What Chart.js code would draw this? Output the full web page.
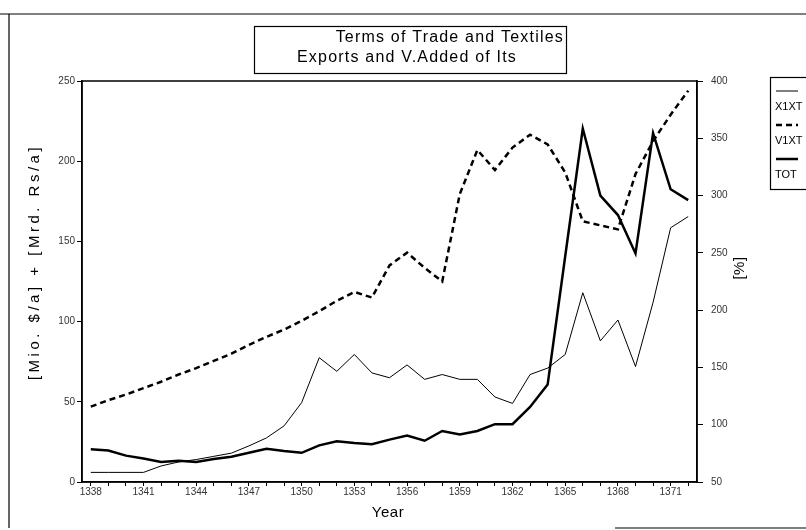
<!DOCTYPE html>
<html>
<head>
<meta charset="utf-8">
<script src="https://cdn.jsdelivr.net/npm/chart.js@4/dist/chart.umd.min.js"></script>
<style>
  body { margin: 0; background: #fff; }
  canvas { display: block; }
</style>
</head>
<body>
<canvas id="tradeChart" width="806" height="530"></canvas>
<script>
const years = [
  1338, 1339, 1340, 1341, 1342, 1343, 1344, 1345, 1346, 1347, 1348, 1349,
  1350, 1351, 1352, 1353, 1354, 1355, 1356, 1357, 1358, 1359, 1360, 1361,
  1362, 1363, 1364, 1365, 1366, 1367, 1368, 1369, 1370, 1371, 1372,
]
const labelYears = [1338, 1341, 1344, 1347, 1350, 1353, 1356, 1359, 1362, 1365, 1368, 1371]

// textile exports [Mio. $/a]
const x1xt = [
  6, 6, 6, 6, 10, 12.5, 14, 16, 18, 22.5, 27.5, 35,
  49.5, 77.5, 69, 79.5, 68, 65, 73, 64, 67, 64, 64, 53,
  49, 67, 71, 79.5, 118, 88, 101, 72, 112, 158.5, 165.5,
]
// value added of textiles [Mrd. Rs/a]
const v1xt = [
  47, 51, 54.5, 58.5, 62.5, 67, 71, 75.5, 80, 85.5, 90.5, 95,
  100.5, 106.5, 113, 118.5, 115, 135, 143, 133.5, 125, 179.5, 207, 194.5,
  208.5, 216.5, 210.5, 193, 162.5, 160, 157.5, 192, 212.5, 229, 244,
]
// terms of trade [%]
const tot = [
  78.5, 77.5, 73, 70.5, 67.5, 68.5, 67.5, 70, 72, 75.5, 79, 77,
  75.5, 82, 85.5, 84, 83, 87, 90.5, 86, 94.5, 91.5, 94.5, 100.5,
  100.5, 115.5, 135, 247, 358.5, 300, 283, 249.5, 354.5, 305.5, 296,
]

const titleLines = ['Terms of Trade and Textiles', 'Exports and V.Added of Its']
const yLeftTitle = '[Mio. $/a] + [Mrd. Rs/a]'
const yRightTitle = '[%]'
const xTitle = 'Year'

const FONT = "'Liberation Sans', Arial, sans-serif"

const decor = {
  id: 'decor',
  beforeDraw(chart) {
    const { ctx } = chart
    ctx.save()
    ctx.fillStyle = '#fff'
    ctx.fillRect(0, 0, chart.width, chart.height)
    ctx.restore()
  },
  afterDraw(chart) {
    const { ctx, chartArea: a } = chart
    ctx.save()
    ctx.strokeStyle = '#000'
    ctx.fillStyle = '#000'

    // box round the plot
    ctx.lineWidth = 1.5
    ctx.strokeRect(a.left, a.top, a.right - a.left, a.bottom - a.top)

    // outer frame of the page
    ctx.lineWidth = 1.2
    ctx.beginPath()
    ctx.moveTo(0, 14)
    ctx.lineTo(806, 14)
    ctx.moveTo(9, 14)
    ctx.lineTo(9, 528)
    ctx.moveTo(615, 528)
    ctx.lineTo(806, 528)
    ctx.stroke()

    // title box
    ctx.lineWidth = 1.2
    ctx.strokeRect(254.5, 26.5, 312, 47)
    ctx.font = '16px ' + FONT
    ctx.letterSpacing = '1.2px'
    ctx.textBaseline = 'alphabetic'
    ctx.textAlign = 'right'
    ctx.fillText(titleLines[0], 564, 42)
    ctx.textAlign = 'left'
    ctx.fillText(titleLines[1], 297, 62)

    // axis titles
    ctx.font = '15px ' + FONT
    ctx.textAlign = 'center'
    ctx.textBaseline = 'middle'
    ctx.letterSpacing = '3.5px'
    ctx.save()
    ctx.translate(35, 262)
    ctx.rotate(-Math.PI / 2)
    ctx.fillText(yLeftTitle, 0, 0)
    ctx.restore()
    ctx.letterSpacing = '0.5px'
    ctx.save()
    ctx.translate(740, 268)
    ctx.rotate(-Math.PI / 2)
    ctx.fillText(yRightTitle, 0, 0)
    ctx.restore()
    ctx.fillText(xTitle, 388, 513)

    // legend
    ctx.letterSpacing = '0px'
    ctx.lineWidth = 1.2
    ctx.strokeRect(770.5, 77.5, 60, 112)
    ctx.font = '11px ' + FONT
    ctx.textAlign = 'left'
    ctx.textBaseline = 'alphabetic'
    chart.data.datasets.forEach((ds, i) => {
      const y = 91 + i * 34
      ctx.save()
      ctx.lineWidth = ds.borderWidth
      ctx.setLineDash(ds.borderDash || [])
      ctx.beginPath()
      ctx.moveTo(776, y)
      ctx.lineTo(798, y)
      ctx.stroke()
      ctx.restore()
      ctx.fillText(ds.label, 775, y + 19)
    })
    ctx.restore()
  },
}

const tickFont = { family: FONT, size: 10 }

const ctx = document.getElementById('tradeChart')
new Chart(ctx, {
  type: 'line',
  data: {
    labels: years,
    datasets: [
      {
        label: 'X1XT',
        data: x1xt,
        yAxisID: 'y',
        borderColor: '#000',
        borderWidth: 1,
        pointRadius: 0,
        tension: 0,
      },
      {
        label: 'V1XT',
        data: v1xt,
        yAxisID: 'y',
        borderColor: '#000',
        borderWidth: 2.5,
        borderDash: [6, 4],
        pointRadius: 0,
        tension: 0,
      },
      {
        label: 'TOT',
        data: tot,
        yAxisID: 'y1',
        borderColor: '#000',
        borderWidth: 2.5,
        pointRadius: 0,
        tension: 0,
      },
    ],
  },
  options: {
    responsive: false,
    animation: false,
    layout: { padding: { top: 81, left: 0, right: 0, bottom: 0 } },
    plugins: {
      legend: { display: false },
      title: { display: false },
      tooltip: { enabled: false },
    },
    scales: {
      x: {
        type: 'category',
        offset: true,
        grid: { drawOnChartArea: false, tickLength: 4, color: '#000' },
        border: { color: '#000', width: 1.5 },
        ticks: {
          autoSkip: false,
          maxRotation: 0,
          padding: 0,
          color: '#333',
          font: tickFont,
          callback(value, index) {
            const yr = years[index]
            return labelYears.includes(yr) ? String(yr) : ''
          },
        },
        afterFit(scale) { scale.height = 48 },
      },
      y: {
        position: 'left',
        min: 0,
        max: 250,
        grid: { drawOnChartArea: false, tickLength: 5, color: '#000' },
        border: { color: '#000', width: 1.5 },
        ticks: { stepSize: 50, padding: 2, color: '#333', font: tickFont },
        afterFit(scale) { scale.width = 82 },
      },
      y1: {
        position: 'right',
        min: 50,
        max: 400,
        grid: { drawOnChartArea: false, tickLength: 6, color: '#000' },
        border: { color: '#000', width: 1.5 },
        ticks: { stepSize: 50, padding: 8, color: '#333', font: tickFont },
        afterFit(scale) { scale.width = 109 },
      },
    },
  },
  plugins: [decor],
})
</script>
</body>
</html>
